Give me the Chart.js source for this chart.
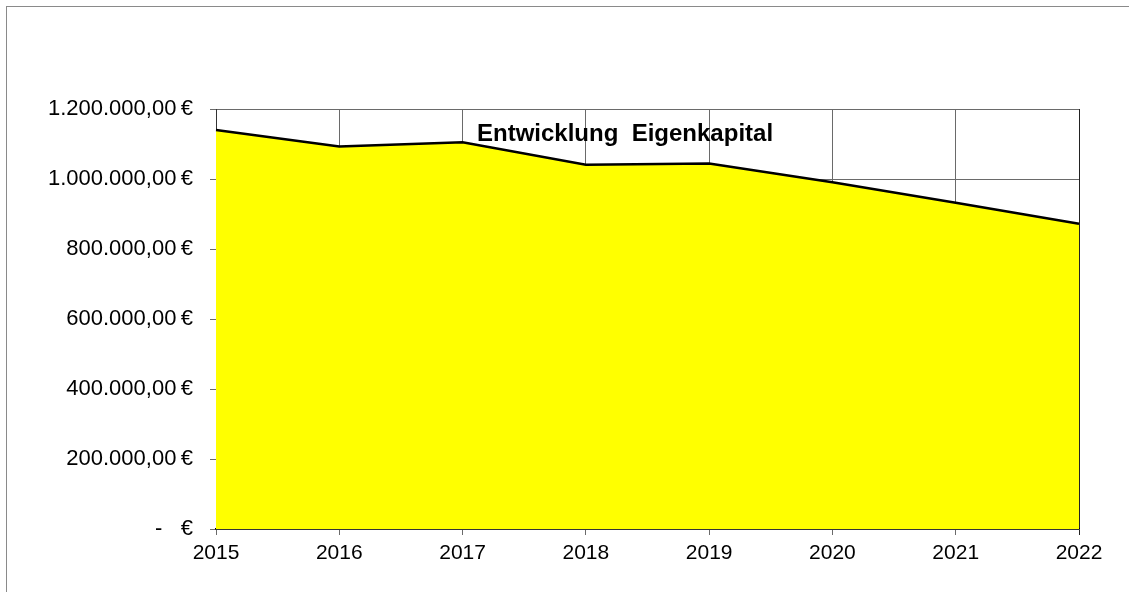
<!DOCTYPE html>
<html lang="de">
<head>
    <meta charset="UTF-8">
    <title>Entwicklung Eigenkapital</title>
    <style>
body {
    margin: 0;
    padding: 0;
    background: #fff;
}

.frame {
    position: absolute;
    left: 6px;
    top: 6px;
    width: 1140px;
    height: 600px;
    border-left: 1px solid #8a8a8a;
    border-top: 1px solid #8a8a8a;
}

.wrap {
    position: absolute;
    left: 0;
    top: 0;
    width: 1129px;
    height: 592px;
}
    </style>
    <script src="https://cdn.jsdelivr.net/npm/chart.js@4"></script>
</head>
<body>
    <div class="frame"></div>
    <div class="wrap">
        <canvas id="eigenkapitalChart" width="1129" height="592"></canvas>
    </div>

    <script>
        // data
        const years = ['2015', '2016', '2017', '2018', '2019', '2020', '2021', '2022'];
        const eigenkapital = [1140000, 1093000, 1105000, 1041000, 1044000, 991000, 932000, 872000];
        const yTicks = [0, 200000, 400000, 600000, 800000, 1000000, 1200000];
        const chartTitle = 'Entwicklung  Eigenkapital';

        const fontFamily = 'Arial, "Liberation Sans", sans-serif';

        // German accounting style: 1.200.000,00 €, zero shown as "-   €"
        function euro(value) {
            if (value === 0) return '-   €';
            const parts = value.toFixed(2).split('.');
            const whole = parts[0].replace(/\B(?=(\d{3})+(?!\d))/g, '.');
            return whole + ',' + parts[1] + '\u2009€';
        }

        // title sits inside the plot area, like in the spreadsheet
        const innerTitle = {
            id: 'innerTitle',
            afterDraw(chart) {
                const ctx = chart.ctx;
                const area = chart.chartArea;
                ctx.save();
                ctx.font = 'bold 24px ' + fontFamily;
                ctx.fillStyle = '#000';
                ctx.textBaseline = 'alphabetic';
                ctx.fillText(chartTitle, area.left + 261, area.top + 32);
                ctx.restore();
            }
        };

        const ctx = document.getElementById('eigenkapitalChart').getContext('2d');
        new Chart(ctx, {
            type: 'line',
            data: {
                labels: years,
                datasets: [{
                    label: 'Eigenkapital',
                    data: eigenkapital,
                    borderColor: '#000',
                    backgroundColor: '#ffff00',
                    borderWidth: 2.5,
                    fill: 'origin',
                    tension: 0,
                    pointRadius: 0
                }]
            },
            options: {
                responsive: false,
                animation: false,
                layout: {
                    padding: { top: 109, right: 50, left: 0, bottom: 0 }
                },
                plugins: {
                    legend: { display: false },
                    tooltip: { enabled: false }
                },
                scales: {
                    x: {
                        offset: false,
                        afterFit(axis) { axis.height = 63; },
                        grid: {
                            color: ctx => ctx.index === years.length - 1 ? '#222' : '#6a6a6a',
                            lineWidth: 1,
                            tickLength: 6
                        },
                        border: { color: '#000', width: 1.5 },
                        ticks: {
                            color: '#000',
                            padding: 6,
                            maxRotation: 0,
                            font: { family: fontFamily, size: 21 }
                        }
                    },
                    y: {
                        min: 0,
                        max: 1200000,
                        afterFit(axis) { axis.width = 216; },
                        afterBuildTicks(axis) {
                            axis.ticks = yTicks.map(v => ({ value: v }));
                        },
                        grid: {
                            color: '#6a6a6a',
                            lineWidth: 1,
                            tickLength: 6
                        },
                        border: { color: '#333', width: 1 },
                        ticks: {
                            color: '#000',
                            padding: 17,
                            font: { family: fontFamily, size: 22 },
                            callback: value => euro(value)
                        }
                    }
                }
            },
            plugins: [innerTitle]
        });
    </script>
</body>
</html>
